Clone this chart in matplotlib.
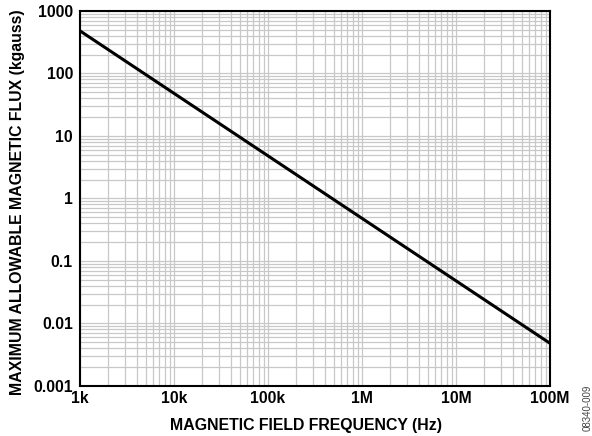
import numpy as np
import matplotlib.pyplot as plt
from matplotlib.ticker import FixedLocator, LogLocator, NullFormatter

plt.rcParams["font.family"] = ["Liberation Sans", "DejaVu Sans"]
plt.rcParams["font.weight"] = "bold"

# line end points
freq_hz = [1e3, 1e8]
flux_kgauss = [480, 0.0048]

x_ticks = [1e3, 1e4, 1e5, 1e6, 1e7, 1e8]
x_labels = ["1k", "10k", "100k", "1M", "10M", "100M"]
y_ticks = [0.001, 0.01, 0.1, 1, 10, 100, 1000]
y_labels = ["0.001", "0.01", "0.1", "1", "10", "100", "1000"]

fig = plt.figure(figsize=(5.92, 4.36), dpi=100)
ax = fig.add_axes([0.135, 0.115, 0.794, 0.86])

ax.plot(freq_hz, flux_kgauss, color="black", lw=2.2, solid_capstyle="butt", zorder=3)
ax.set_xscale("log")
ax.set_yscale("log")
ax.set_xlim(1e3, 1e8)
ax.set_ylim(1e-3, 1e3)

ax.xaxis.set_major_locator(FixedLocator(x_ticks))
ax.yaxis.set_major_locator(FixedLocator(y_ticks))
ax.set_xticklabels(x_labels)
ax.set_yticklabels(y_labels)
ax.xaxis.set_minor_locator(LogLocator(base=10, subs=np.arange(2, 10), numticks=20))
ax.yaxis.set_minor_locator(LogLocator(base=10, subs=np.arange(2, 10), numticks=20))
ax.xaxis.set_minor_formatter(NullFormatter())
ax.yaxis.set_minor_formatter(NullFormatter())

ax.grid(which="both", color="#c8c8c8", lw=0.9)
ax.tick_params(which="both", length=0, labelsize=11.3)
ax.tick_params(axis="x", pad=4)
ax.tick_params(axis="y", pad=5)
for lbl in ax.get_xticklabels() + ax.get_yticklabels():
    lbl.set_fontweight("bold")
for s in ax.spines.values():
    s.set_linewidth(1.5)

ax.set_xlabel("MAGNETIC FIELD FREQUENCY (Hz)", fontsize=11.4, fontweight="bold")
ax.xaxis.set_label_coords(0.48, -0.087)
ax.set_ylabel("MAXIMUM ALLOWABLE MAGNETIC FLUX (kgauss)", fontsize=11.4, fontweight="bold")
ax.yaxis.set_label_coords(-0.117, 0.49)

fig.text(0.993, 0.065, "08340-009", rotation=90, fontsize=7, fontweight="normal",
         color="#444444", ha="center", va="center")

fig.savefig("out.png", dpi=100)
